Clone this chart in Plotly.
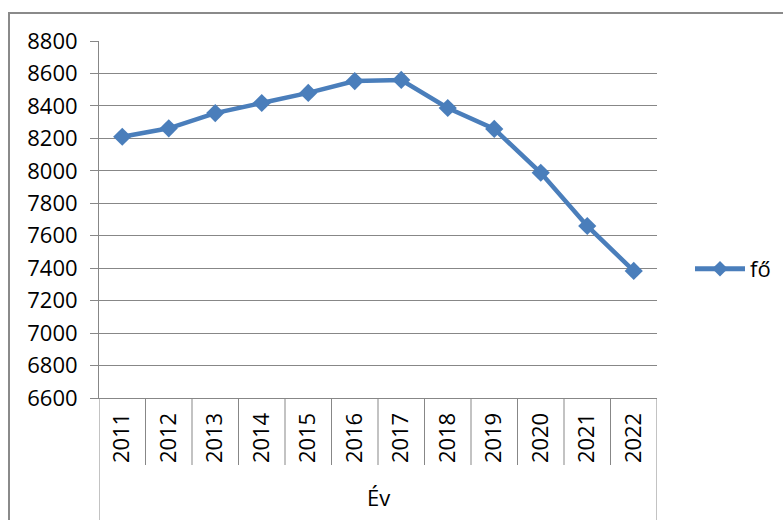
import plotly.graph_objects as go

years = ["2011", "2012", "2013", "2014", "2015", "2016",
         "2017", "2018", "2019", "2020", "2021", "2022"]
values = [8210, 8262, 8356, 8418, 8480, 8553, 8560, 8387, 8258, 7988, 7660, 7383]
series_name = "fő"
axis_group_label = "Év"
y_ticks = list(range(6600, 8801, 200))

W, H = 783, 520
L, R, T, B = 99, 657, 41, 398   # plot area in pixels
PW, PH = R - L, B - T

def px(x):
    return (x - L) / PW

def py(y):
    return (B - y) / PH

FONT = "Open Sans"
FS = 22
BLUE = "#4a7ebb"
GRID = "#878787"

fig = go.Figure()
fig.add_trace(go.Scatter(
    x=years, y=values, name=series_name, mode="lines+markers",
    line=dict(color=BLUE, width=4.5),
    marker=dict(symbol="diamond", size=14, color=BLUE),
))

shapes = []
# category separators below the axis
for i in range(len(years) - 1):
    shapes.append(dict(type="line", xref="x", yref="paper",
                       x0=i + 0.5, x1=i + 0.5, y0=0, y1=py(465),
                       line=dict(color=GRID, width=1)))
# left and right outer lines of the category table
for xv in (-0.5, len(years) - 0.5):
    shapes.append(dict(type="line", xref="x", yref="paper",
                       x0=xv, x1=xv, y0=0, y1=py(530),
                       line=dict(color=GRID, width=1)))
# chart area border
shapes.append(dict(type="rect", xref="paper", yref="paper",
                   x0=px(9), x1=px(800), y0=py(13), y1=py(540),
                   line=dict(color="#8a8a8a", width=2)))

fig.update_layout(
    width=W, height=H,
    margin=dict(l=L, r=W - R, t=T, b=H - B, pad=0, autoexpand=False),
    paper_bgcolor="white", plot_bgcolor="white",
    font=dict(family=FONT, size=FS, color="black"),
    showlegend=True,
    legend=dict(x=px(690), y=py(269), xanchor="left", yanchor="middle",
                font=dict(family=FONT, size=FS, color="black"),
                bgcolor="rgba(0,0,0,0)", itemwidth=50, itemsizing="constant"),
    shapes=shapes,
    annotations=[dict(text=axis_group_label, xref="paper", yref="paper",
                      x=0.5, y=py(497), xanchor="center", yanchor="middle",
                      showarrow=False, font=dict(family=FONT, size=FS, color="black"))],
    xaxis=dict(type="category", range=[-0.5, len(years) - 0.5],
               showgrid=False, showline=True, linecolor=GRID, linewidth=1,
               ticks="", tickangle=-90, ticklabelstandoff=5,
               tickfont=dict(family=FONT, size=FS, color="black")),
    yaxis=dict(range=[6600, 8800], tickvals=y_ticks,
               showgrid=True, gridcolor=GRID, gridwidth=1,
               showline=True, linecolor=GRID, linewidth=1,
               ticks="outside", ticklen=8, tickcolor=GRID,
               ticklabelstandoff=8, zeroline=False,
               tickfont=dict(family=FONT, size=FS, color="black")),
)

fig.write_html("out.html",
               config={"displayModeBar": False},
               post_script="document.body.style.margin='0';document.body.style.overflow='hidden';")
